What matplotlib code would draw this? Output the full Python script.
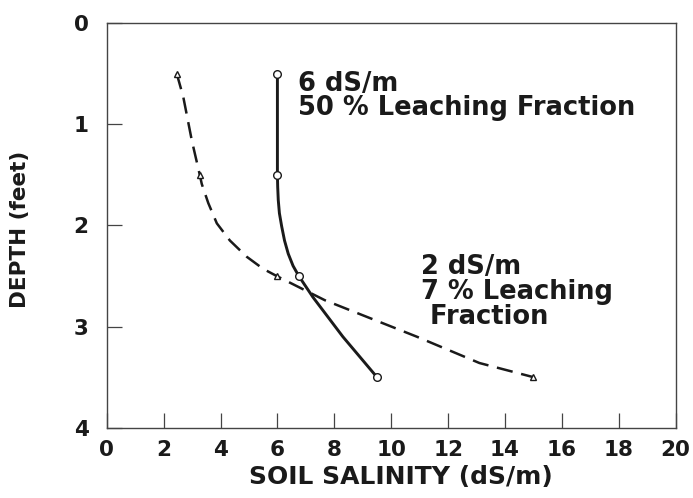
import numpy as np
import matplotlib.pyplot as plt

"""
Soil salinity profile with depth for two leaching fractions
"""

# measured points (markers)
salt_50 = [6.0, 6.0, 6.75, 9.5]
depth_50 = [0.5, 1.5, 2.5, 3.5]

salt_7 = [2.46, 3.27, 5.97, 15.0]
depth_7 = [0.5, 1.5, 2.5, 3.5]

# curve traced through the points
curve_salt_50 = [6.0, 6.0, 6.0, 6.01, 6.03, 6.07, 6.15, 6.25, 6.38, 6.55, 6.75, 7.25, 8.3, 9.5]
curve_depth_50 = [0.5, 1.0, 1.5, 1.62, 1.75, 1.88, 2.01, 2.15, 2.28, 2.40, 2.5, 2.71, 3.1, 3.5]

curve_salt_7 = [2.46, 2.69, 2.99, 3.27, 3.34, 3.57, 3.87, 4.33, 4.92, 5.5, 5.97, 7.67, 10.9, 13.1, 15.0]
curve_depth_7 = [0.5, 0.73, 1.16, 1.5, 1.59, 1.78, 1.98, 2.15, 2.31, 2.43, 2.5, 2.74, 3.10, 3.36, 3.5]

xticks = np.arange(0, 22, 2)
yticks = np.arange(0, 5, 1)

plt.rcParams['font.family'] = ['DejaVu Sans']
plt.rcParams['font.weight'] = 'bold'

fig = plt.figure(figsize=(6.93, 4.98), dpi=100)
ax = fig.add_axes([0.154, 0.141, 0.821, 0.813])

# dashed curve (2 dS/m)
ax.plot(curve_salt_7, curve_depth_7, color='#1a1a1a', linewidth=1.8, linestyle=(0, (6.5, 3.5)))
ax.plot(salt_7, depth_7, linestyle='none', marker='^', markersize=5, markerfacecolor='white',
        markeredgecolor='#1a1a1a', markeredgewidth=1.0)

# solid curve (6 dS/m)
ax.plot(curve_salt_50, curve_depth_50, color='#1a1a1a', linewidth=2.1)
ax.plot(salt_50, depth_50, linestyle='none', marker='o', markersize=5.5, markerfacecolor='white',
        markeredgecolor='#1a1a1a', markeredgewidth=1.0)

# annotations
txt = dict(fontsize=18.5, fontweight='bold', color='#1a1a1a', va='center', ha='left')
ax.text(6.72, 0.60, '6 dS/m', **txt)
ax.text(6.72, 0.84, '50 % Leaching Fraction', **txt)
ax.text(11.05, 2.41, '2 dS/m', **txt)
ax.text(11.05, 2.66, '7 % Leaching', **txt)
ax.text(11.05, 2.91, ' Fraction', **txt)

# axes settings
ax.set_xlim([0, 20])
ax.set_ylim([4, 0])
ax.set_xticks(xticks)
ax.set_yticks(yticks)
ax.tick_params(axis='both', direction='in', length=11, width=0.9, color='#444444',
               labelsize=15.5, pad=9, labelcolor='#1a1a1a')
ax.tick_params(axis='y', pad=13)
for lab in ax.get_xticklabels() + ax.get_yticklabels():
    lab.set_fontweight('bold')

for side in ['left', 'right', 'top', 'bottom']:
    ax.spines[side].set_color('#444444')
    ax.spines[side].set_linewidth(1.0)

ax.set_xlabel('SOIL SALINITY (dS/m)', fontsize=18, fontweight='bold', color='#1a1a1a')
ax.xaxis.set_label_coords(0.517, -0.092)
ax.set_ylabel('DEPTH (feet)', fontsize=15.5, fontweight='bold', color='#1a1a1a')
ax.yaxis.set_label_coords(-0.135, 0.49)

plt.savefig('out.png', dpi=100)
